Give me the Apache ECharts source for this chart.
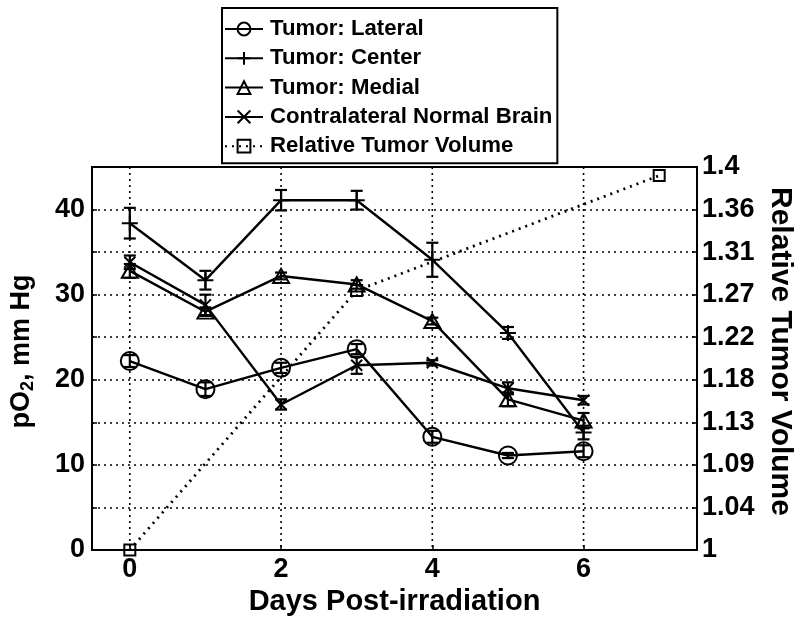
<!DOCTYPE html>
<html>
<head>
<meta charset="utf-8">
<script src="https://cdn.jsdelivr.net/npm/echarts@6/dist/echarts.min.js"></script>
<style>
html,body{margin:0;padding:0;background:#fff;}
#chart{width:800px;height:626px;}
</style>
</head>
<body>
<div id="chart"></div>
<script>
// ---- data ----
const days = [0, 1, 2, 3, 4, 5, 6];
const lateral    = [22.2, 18.9, 21.4, 23.6, 13.3, 11.1, 11.6];
const lateralErr = [0.7, 0.8, 0.6, 0.6, 0.7, 0.3, 0.7];
const center     = [38.4, 31.7, 41.1, 41.1, 34.1, 25.5, 13.8];
const centerErr  = [1.8, 1.1, 1.2, 1.1, 2.0, 0.7, 0.8];
const medial     = [32.8, 28.0, 32.2, 31.2, 26.9, 17.7, 15.2];
const medialErr  = [0.8, 0.5, 0.4, 0.5, 0.4, 0.8, 0.9];
const contra     = [33.8, 28.8, 17.1, 21.7, 22.0, 19.0, 17.6];
const contraErr  = [0.8, 1.2, 0.6, 1.0, 0.3, 0.7, 0.5];
const volDays = [0, 3, 7];
const volume  = [1.0, 1.271, 1.391];
const gridDays = [0, 2, 4, 6];
const xTickLabels = [0, 2, 4, 6];
const leftTickLabels = [0, 10, 20, 30, 40];
const rightTickLabels = ['1', '1.04', '1.09', '1.13', '1.18', '1.22', '1.27', '1.31', '1.36', '1.4'];

const FONT = "'Liberation Sans', Arial, Helvetica, sans-serif";
const rightTickValues = rightTickLabels.map((_, i) => 1 + i * 0.4 / 9);

function pairs(xs, ys) { return xs.map((x, i) => [x, ys[i]]); }
function errData(xs, m, e) { return xs.map((x, i) => [x, m[i] - e[i], m[i] + e[i]]); }

function errSeries(xs, m, e) {
  return {
    type: 'custom',
    silent: true,
    z: 3,
    data: errData(xs, m, e),
    encode: { x: 0, y: [1, 2] },
    renderItem: function (params, api) {
      const x = api.value(0);
      const lo = api.coord([x, api.value(1)]);
      const hi = api.coord([x, api.value(2)]);
      const w = 6;
      const st = { stroke: '#000', lineWidth: 2.2, fill: 'none' };
      return {
        type: 'group',
        children: [
          { type: 'line', shape: { x1: lo[0], y1: lo[1], x2: hi[0], y2: hi[1] }, style: st },
          { type: 'line', shape: { x1: lo[0] - w, y1: lo[1], x2: lo[0] + w, y2: lo[1] }, style: st },
          { type: 'line', shape: { x1: hi[0] - w, y1: hi[1], x2: hi[0] + w, y2: hi[1] }, style: st }
        ]
      };
    }
  };
}

function lineSeries(name, xs, ys, symbol, size, extra) {
  return Object.assign({
    name: name,
    type: 'line',
    data: pairs(xs, ys),
    symbol: symbol,
    symbolSize: size,
    showSymbol: true,
    z: 4,
    lineStyle: { color: '#000', width: 2.4 },
    itemStyle: { color: 'none', borderColor: '#000', borderWidth: 2 },
    emphasis: { disabled: true },
    animation: false
  }, extra || {});
}

const chart = echarts.init(document.getElementById('chart'), null, { renderer: 'canvas' });

const option = {
  animation: false,
  backgroundColor: '#fff',
  textStyle: { fontFamily: FONT, fontWeight: 'bold', color: '#000' },
  grid: {
    left: 92, right: 103, top: 167, bottom: 76,
    containLabel: false,
    outerBoundsMode: 'none',
    show: true, borderColor: '#000', borderWidth: 2, backgroundColor: '#fff'
  },
  legend: {
    orient: 'vertical',
    left: 222, top: 8,
    padding: [10, 5, 6, 2],
    itemGap: 7.3,
    itemWidth: 38,
    itemHeight: 16,
    backgroundColor: '#fff',
    borderColor: '#000',
    borderWidth: 2,
    borderRadius: 0,
    selectedMode: false,
    textStyle: { fontFamily: FONT, fontWeight: 'bold', fontSize: 22.2, color: '#000', padding: [0, 0, 0, 2] },
    data: ['Tumor: Lateral', 'Tumor: Center', 'Tumor: Medial', 'Contralateral Normal Brain', 'Relative Tumor Volume'],
    z: 10
  },
  xAxis: {
    type: 'value',
    min: -0.5, max: 7.5,
    name: 'Days Post-irradiation',
    nameLocation: 'middle',
    nameGap: 37,
    nameTextStyle: { fontFamily: FONT, fontWeight: 'bold', fontSize: 29, color: '#000' },
    axisLine: { show: true, onZero: false, lineStyle: { color: '#000', width: 2 } },
    axisTick: { show: true, inside: true, length: 5, customValues: xTickLabels, lineStyle: { color: '#000', width: 1.5 } },
    axisLabel: { customValues: xTickLabels, fontFamily: FONT, fontWeight: 'bold', fontSize: 27, color: '#000', margin: 6 },
    splitLine: { show: false }
  },
  yAxis: [
    {
      type: 'value',
      min: 0, max: 45, interval: 5,
      name: 'pO{s|2}, mm Hg',
      nameLocation: 'middle',
      nameGap: 55,
      nameTextStyle: {
        fontFamily: FONT, fontWeight: 'bold', fontSize: 27, color: '#000',
        padding: [0, 0, 0, 14],
        rich: { s: { fontFamily: FONT, fontWeight: 'bold', fontSize: 18, color: '#000', padding: [12, 0, 0, 0] } }
      },
      axisLine: { show: true, onZero: false, lineStyle: { color: '#000', width: 2 } },
      axisTick: { show: true, inside: true, length: 5, lineStyle: { color: '#000', width: 1.5 } },
      axisLabel: {
        fontFamily: FONT, fontWeight: 'bold', fontSize: 27, color: '#000', margin: 7,
        formatter: v => leftTickLabels.indexOf(v) >= 0 ? String(v) : ''
      },
      splitLine: { show: true, lineStyle: { color: '#000', width: 1.6, type: [2, 4] } }
    },
    {
      type: 'value',
      min: 1, max: 1.4,
      position: 'right',
      name: 'Relative Tumor Volume',
      nameLocation: 'middle',
      nameRotate: -90,
      nameGap: 68,
      nameTextStyle: { fontFamily: FONT, fontWeight: 'bold', fontSize: 30, color: '#000', padding: [0, 14, 0, 0] },
      axisLine: { show: true, onZero: false, lineStyle: { color: '#000', width: 2 } },
      axisTick: { show: true, inside: true, length: 5, customValues: rightTickValues, lineStyle: { color: '#000', width: 1.5 } },
      axisLabel: {
        customValues: rightTickValues,
        fontFamily: FONT, fontWeight: 'bold', fontSize: 27, color: '#000', margin: 5,
        formatter: v => {
          let best = 0, bd = Infinity;
          rightTickValues.forEach((t, i) => { const d = Math.abs(t - v); if (d < bd) { bd = d; best = i; } });
          return rightTickLabels[best];
        }
      },
      splitLine: { show: false }
    }
  ],
  series: [
    {
      type: 'custom',
      silent: true,
      z: 1,
      data: gridDays.map(d => [d]),
      encode: { x: 0 },
      renderItem: function (params, api) {
        const cs = params.coordSys;
        const p = api.coord([api.value(0), 0]);
        return {
          type: 'line',
          shape: { x1: p[0], y1: cs.y, x2: p[0], y2: cs.y + cs.height },
          style: { stroke: '#000', lineWidth: 1.6, lineDash: [2, 4] }
        };
      }
    },
    errSeries(days, lateral, lateralErr),
    errSeries(days, center, centerErr),
    errSeries(days, medial, medialErr),
    errSeries(days, contra, contraErr),
    lineSeries('Tumor: Lateral', days, lateral, 'circle', 18),
    lineSeries('Tumor: Center', days, center, 'path://M0,5L10,5M5,0L5,10', 16),
    lineSeries('Tumor: Medial', days, medial, 'triangle', [16, 14]),
    lineSeries('Contralateral Normal Brain', days, contra, 'path://M0,0L10,10M10,0L0,10', 11),
    lineSeries('Relative Tumor Volume', volDays, volume, 'rect', 11, {
      yAxisIndex: 1,
      lineStyle: { color: '#000', width: 2.8, type: [2, 5] }
    })
  ]
};

chart.setOption(option);
</script>
</body>
</html>
